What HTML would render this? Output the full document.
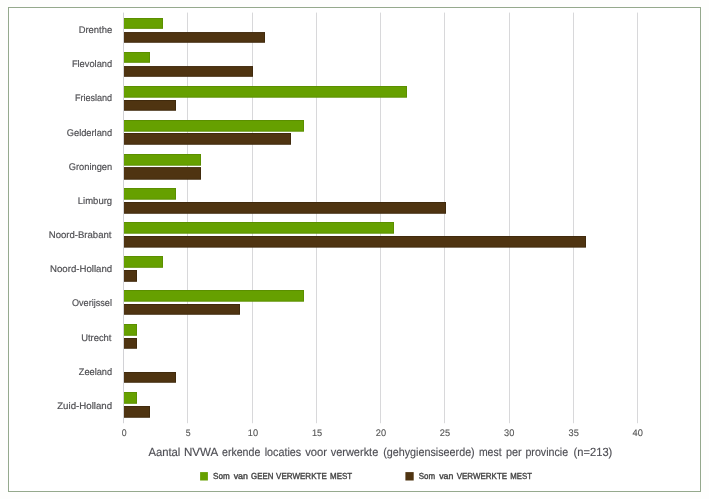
<!DOCTYPE html>
<html><head><meta charset="utf-8"><title>chart</title>
<style>
html,body{margin:0;padding:0;background:#fefefd;}
body{width:709px;height:499px;overflow:hidden;}
svg{display:block;will-change:transform;}
text{font-family:"Liberation Sans",sans-serif;text-rendering:geometricPrecision;fill:#505054;stroke:#505054;stroke-width:0;}
text.c{stroke-width:0.18px;}
text.l{fill:#444;stroke:#444;stroke-width:0.38px;}
text.t{fill:#555;stroke:#555;stroke-width:0.12px;}
text.ti{fill:#4e4e54;stroke:#4e4e54;stroke-width:0.15px;}
</style></head><body>
<svg width="709" height="499" viewBox="0 0 709 499">
<rect x="0" y="0" width="709" height="499" fill="#fefefd"/>
<rect x="8.5" y="7.5" width="692" height="484" fill="#ffffff" stroke="#95a98d" stroke-width="1"/>

<rect x="123" y="12.6" width="1" height="410.6" fill="#d2d2d6"/>
<rect x="187" y="12.6" width="1" height="410.6" fill="#d8d8da"/>
<rect x="252" y="12.6" width="1" height="410.6" fill="#d8d8da"/>
<rect x="316" y="12.6" width="1" height="410.6" fill="#d8d8da"/>
<rect x="380" y="12.6" width="1" height="410.6" fill="#d8d8da"/>
<rect x="444" y="12.6" width="1" height="410.6" fill="#d8d8da"/>
<rect x="509" y="12.6" width="1" height="410.6" fill="#d8d8da"/>
<rect x="573" y="12.6" width="1" height="410.6" fill="#d8d8da"/>
<rect x="637" y="12.6" width="1" height="410.6" fill="#d8d8da"/>
<rect x="124.00" y="18.00" width="39.00" height="10.85" fill="#66a000"/>
<path d="M124.00 18.50H162.50V28.35H124.00" fill="none" stroke="rgba(0,0,0,0.1)" stroke-width="1"/>
<rect x="124.00" y="32.05" width="141.00" height="10.71" fill="#4f3411"/>
<path d="M124.00 32.55H264.50V42.26H124.00" fill="none" stroke="rgba(0,0,0,0.18)" stroke-width="1"/>
<rect x="124.00" y="52.00" width="26.00" height="10.80" fill="#66a000"/>
<path d="M124.00 52.50H149.50V62.30H124.00" fill="none" stroke="rgba(0,0,0,0.1)" stroke-width="1"/>
<rect x="124.00" y="66.05" width="129.00" height="10.75" fill="#4f3411"/>
<path d="M124.00 66.55H252.50V76.30H124.00" fill="none" stroke="rgba(0,0,0,0.18)" stroke-width="1"/>
<rect x="124.00" y="86.00" width="283.00" height="11.70" fill="#66a000"/>
<path d="M124.00 86.50H406.50V97.20H124.00" fill="none" stroke="rgba(0,0,0,0.1)" stroke-width="1"/>
<rect x="124.00" y="100.00" width="52.00" height="10.75" fill="#4f3411"/>
<path d="M124.00 100.50H175.50V110.25H124.00" fill="none" stroke="rgba(0,0,0,0.18)" stroke-width="1"/>
<rect x="124.00" y="120.00" width="180.00" height="11.70" fill="#66a000"/>
<path d="M124.00 120.50H303.50V131.20H124.00" fill="none" stroke="rgba(0,0,0,0.1)" stroke-width="1"/>
<rect x="124.00" y="133.00" width="167.00" height="11.75" fill="#4f3411"/>
<path d="M124.00 133.50H290.50V144.25H124.00" fill="none" stroke="rgba(0,0,0,0.18)" stroke-width="1"/>
<rect x="124.00" y="154.00" width="77.00" height="11.70" fill="#66a000"/>
<path d="M124.00 154.50H200.50V165.20H124.00" fill="none" stroke="rgba(0,0,0,0.1)" stroke-width="1"/>
<rect x="124.00" y="167.10" width="77.00" height="12.60" fill="#4f3411"/>
<path d="M124.00 167.60H200.50V179.20H124.00" fill="none" stroke="rgba(0,0,0,0.18)" stroke-width="1"/>
<rect x="124.00" y="188.00" width="52.00" height="11.70" fill="#66a000"/>
<path d="M124.00 188.50H175.50V199.20H124.00" fill="none" stroke="rgba(0,0,0,0.1)" stroke-width="1"/>
<rect x="124.00" y="202.00" width="322.00" height="11.75" fill="#4f3411"/>
<path d="M124.00 202.50H445.50V213.25H124.00" fill="none" stroke="rgba(0,0,0,0.18)" stroke-width="1"/>
<rect x="124.00" y="222.00" width="270.00" height="11.70" fill="#66a000"/>
<path d="M124.00 222.50H393.50V233.20H124.00" fill="none" stroke="rgba(0,0,0,0.1)" stroke-width="1"/>
<rect x="124.00" y="236.00" width="462.00" height="11.60" fill="#4f3411"/>
<path d="M124.00 236.50H585.50V247.10H124.00" fill="none" stroke="rgba(0,0,0,0.18)" stroke-width="1"/>
<rect x="124.00" y="256.00" width="39.00" height="11.80" fill="#66a000"/>
<path d="M124.00 256.50H162.50V267.30H124.00" fill="none" stroke="rgba(0,0,0,0.1)" stroke-width="1"/>
<rect x="124.00" y="270.00" width="13.00" height="11.80" fill="#4f3411"/>
<path d="M124.00 270.50H136.50V281.30H124.00" fill="none" stroke="rgba(0,0,0,0.18)" stroke-width="1"/>
<rect x="124.00" y="290.00" width="180.00" height="11.70" fill="#66a000"/>
<path d="M124.00 290.50H303.50V301.20H124.00" fill="none" stroke="rgba(0,0,0,0.1)" stroke-width="1"/>
<rect x="124.00" y="304.00" width="116.00" height="10.75" fill="#4f3411"/>
<path d="M124.00 304.50H239.50V314.25H124.00" fill="none" stroke="rgba(0,0,0,0.18)" stroke-width="1"/>
<rect x="124.00" y="324.00" width="13.00" height="11.80" fill="#66a000"/>
<path d="M124.00 324.50H136.50V335.30H124.00" fill="none" stroke="rgba(0,0,0,0.1)" stroke-width="1"/>
<rect x="124.00" y="338.00" width="13.00" height="10.75" fill="#4f3411"/>
<path d="M124.00 338.50H136.50V348.25H124.00" fill="none" stroke="rgba(0,0,0,0.18)" stroke-width="1"/>
<rect x="124.00" y="372.00" width="52.00" height="10.75" fill="#4f3411"/>
<path d="M124.00 372.50H175.50V382.25H124.00" fill="none" stroke="rgba(0,0,0,0.18)" stroke-width="1"/>
<rect x="124.00" y="392.00" width="13.00" height="11.80" fill="#66a000"/>
<path d="M124.00 392.50H136.50V403.30H124.00" fill="none" stroke="rgba(0,0,0,0.1)" stroke-width="1"/>
<rect x="124.00" y="406.00" width="26.00" height="11.75" fill="#4f3411"/>
<path d="M124.00 406.50H149.50V417.25H124.00" fill="none" stroke="rgba(0,0,0,0.18)" stroke-width="1"/>
<text class="c" x="78.70" y="33.0" font-size="9.6" textLength="33.43" lengthAdjust="spacingAndGlyphs">Drenthe</text>
<text class="c" x="71.90" y="67.2" font-size="9.6" textLength="40.22" lengthAdjust="spacingAndGlyphs">Flevoland</text>
<text class="c" x="74.90" y="101.4" font-size="9.6" textLength="37.22" lengthAdjust="spacingAndGlyphs">Friesland</text>
<text class="c" x="66.80" y="135.5" font-size="9.6" textLength="45.32" lengthAdjust="spacingAndGlyphs">Gelderland</text>
<text class="c" x="68.80" y="169.7" font-size="9.6" textLength="43.32" lengthAdjust="spacingAndGlyphs">Groningen</text>
<text class="c" x="77.80" y="203.9" font-size="9.6" textLength="34.33" lengthAdjust="spacingAndGlyphs">Limburg</text>
<text class="c" x="48.80" y="238.1" font-size="9.6" textLength="62.67" lengthAdjust="spacingAndGlyphs">Noord-Brabant</text>
<text class="c" x="50.00" y="272.3" font-size="9.6" textLength="62.14" lengthAdjust="spacingAndGlyphs">Noord-Holland</text>
<text class="c" x="72.00" y="306.4" font-size="9.6" textLength="39.92" lengthAdjust="spacingAndGlyphs">Overijssel</text>
<text class="c" x="81.20" y="340.6" font-size="9.6" textLength="30.27" lengthAdjust="spacingAndGlyphs">Utrecht</text>
<text class="c" x="78.80" y="374.8" font-size="9.6" textLength="33.32" lengthAdjust="spacingAndGlyphs">Zeeland</text>
<text class="c" x="57.20" y="409.0" font-size="9.6" textLength="54.94" lengthAdjust="spacingAndGlyphs">Zuid-Holland</text>
<text class="t" x="121.70" y="435.6" font-size="9.5" textLength="4.86" lengthAdjust="spacingAndGlyphs">0</text>
<text class="t" x="185.80" y="435.6" font-size="9.5" textLength="4.86" lengthAdjust="spacingAndGlyphs">5</text>
<text class="t" x="247.80" y="435.6" font-size="9.5" textLength="10.28" lengthAdjust="spacingAndGlyphs">10</text>
<text class="t" x="311.90" y="435.6" font-size="9.5" textLength="10.28" lengthAdjust="spacingAndGlyphs">15</text>
<text class="t" x="375.80" y="435.6" font-size="9.5" textLength="10.28" lengthAdjust="spacingAndGlyphs">20</text>
<text class="t" x="439.80" y="435.6" font-size="9.5" textLength="10.28" lengthAdjust="spacingAndGlyphs">25</text>
<text class="t" x="504.00" y="435.6" font-size="9.5" textLength="10.28" lengthAdjust="spacingAndGlyphs">30</text>
<text class="t" x="568.50" y="435.6" font-size="9.5" textLength="10.28" lengthAdjust="spacingAndGlyphs">35</text>
<text class="t" x="632.50" y="435.6" font-size="9.5" textLength="10.28" lengthAdjust="spacingAndGlyphs">40</text>
<text class="ti" x="148.40" y="456.0" font-size="11.8" textLength="31.99" lengthAdjust="spacingAndGlyphs">Aantal</text>
<text class="ti" x="183.90" y="456.0" font-size="11.8" textLength="34.27" lengthAdjust="spacingAndGlyphs">NVWA</text>
<text class="ti" x="222.00" y="456.0" font-size="11.8" textLength="38.31" lengthAdjust="spacingAndGlyphs">erkende</text>
<text class="ti" x="264.70" y="456.0" font-size="11.8" textLength="36.51" lengthAdjust="spacingAndGlyphs">locaties</text>
<text class="ti" x="305.20" y="456.0" font-size="11.8" textLength="21.83" lengthAdjust="spacingAndGlyphs">voor</text>
<text class="ti" x="330.70" y="456.0" font-size="11.8" textLength="47.59" lengthAdjust="spacingAndGlyphs">verwerkte</text>
<text class="ti" x="383.20" y="456.0" font-size="11.8" textLength="91.53" lengthAdjust="spacingAndGlyphs">(gehygiensiseerde)</text>
<text class="ti" x="478.90" y="456.0" font-size="11.8" textLength="22.66" lengthAdjust="spacingAndGlyphs">mest</text>
<text class="ti" x="505.90" y="456.0" font-size="11.8" textLength="15.73" lengthAdjust="spacingAndGlyphs">per</text>
<text class="ti" x="525.40" y="456.0" font-size="11.8" textLength="42.70" lengthAdjust="spacingAndGlyphs">provincie</text>
<text class="ti" x="573.60" y="456.0" font-size="11.8" textLength="38.73" lengthAdjust="spacingAndGlyphs">(n=213)</text>
<text class="l" x="213.10" y="479.2" font-size="8.8" textLength="16.60" lengthAdjust="spacingAndGlyphs">Som</text>
<text class="l" x="233.70" y="479.2" font-size="8.8" textLength="14.19" lengthAdjust="spacingAndGlyphs">van</text>
<text class="l" x="251.10" y="479.2" font-size="8.8" textLength="22.21" lengthAdjust="spacingAndGlyphs">GEEN</text>
<text class="l" x="276.10" y="479.2" font-size="8.8" textLength="50.68" lengthAdjust="spacingAndGlyphs">VERWERKTE</text>
<text class="l" x="330.00" y="479.2" font-size="8.8" textLength="22.13" lengthAdjust="spacingAndGlyphs">MEST</text>
<text class="l" x="418.80" y="479.2" font-size="8.8" textLength="16.30" lengthAdjust="spacingAndGlyphs">Som</text>
<text class="l" x="439.20" y="479.2" font-size="8.8" textLength="14.19" lengthAdjust="spacingAndGlyphs">van</text>
<text class="l" x="456.70" y="479.2" font-size="8.8" textLength="50.48" lengthAdjust="spacingAndGlyphs">VERWERKTE</text>
<text class="l" x="510.30" y="479.2" font-size="8.8" textLength="21.65" lengthAdjust="spacingAndGlyphs">MEST</text>
<rect x="200.1" y="472.1" width="7.8" height="8.4" fill="#66a000"/>
<rect x="405.4" y="472.1" width="8.3" height="8.4" fill="#4f3411"/>
</svg></body></html>
